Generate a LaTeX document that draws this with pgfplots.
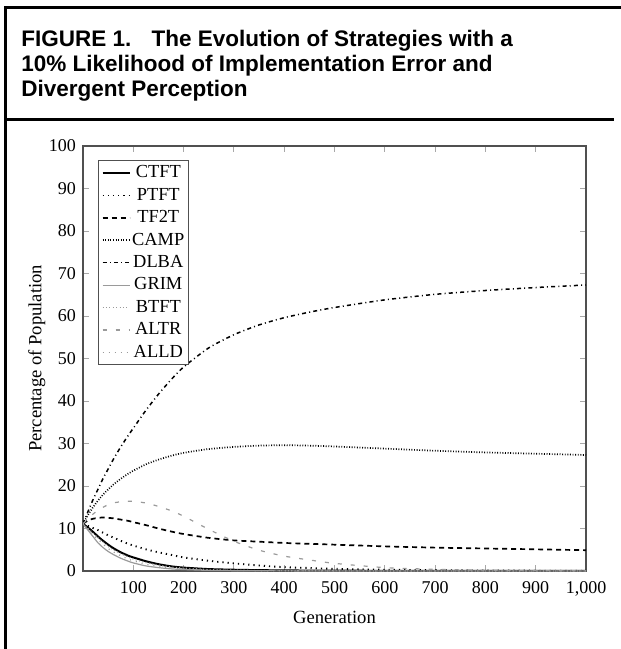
\documentclass[border=0pt]{standalone}
\usepackage{fontspec}
\setmainfont{Liberation Serif}
\newfontfamily\titlefont{Liberation Sans}
\usepackage{pgfplots}
\pgfplotsset{compat=1.18}
\usepackage{pgfplotstable}

\definecolor{axgray}{HTML}{505050}
\definecolor{tkgray}{HTML}{A8A8A8}
\definecolor{crvgray}{HTML}{9A9A9A}

% gen, then one column per strategy (percentage of population)
\pgfplotstableread{
gen  ctft  ptft  tf2t  camp  dlba  grim  btft  altr  alld
0    11.1  11.1  11.1  11.1  11.1  11.1  11.1  11.1  11.1
10   10.2  10.6  11.9  13.2  14.0  9.6   10.0  12.3  9.8
20   9.2   10.1  12.3  15.0  16.8  8.1   8.9   13.4  8.6
30   8.1   9.6   12.5  16.6  19.3  6.6   7.8   14.3  7.4
40   7.1   9.0   12.6  18.0  21.8  5.5   6.8   15.0  6.3
50   6.2   8.4   12.5  19.2  24.0  4.6   5.8   15.6  5.3
60   5.4   7.9   12.4  20.3  26.2  3.9   5.0   16.0  4.5
75   4.4   7.1   12.1  21.7  29.2  3.0   4.1   16.3  3.6
90   3.6   6.4   11.8  22.9  31.9  2.3   3.3   16.4  2.8
100  3.2   6.0   11.5  23.6  33.6  1.9   2.8   16.4  2.4
125  2.3   5.1   10.8  25.1  37.8  1.2   2.0   16.0  1.6
150  1.6   4.4   10.0  26.2  41.6  0.8   1.4   15.2  1.1
175  1.1   3.8   9.3   27.1  45.0  0.5   0.95  14.2  0.75
200  0.8   3.2   8.7   27.8  48.0  0.35  0.7   12.9  0.5
250  0.45  2.4   7.8   28.7  52.5  0.15  0.35  9.8   0.25
300  0.3   1.8   7.2   29.2  55.6  0.08  0.2   7.0   0.12
350  0.2   1.3   6.9   29.5  57.9  0.05  0.13  4.9   0.08
400  0.15  0.9   6.6   29.6  59.6  0.03  0.08  3.5   0.05
450  0.1   0.7   6.4   29.5  60.9  0.02  0.06  2.6   0.03
500  0.08  0.5   6.2   29.3  62.0  0.01  0.04  1.8   0.02
600  0.05  0.3   5.8   28.8  63.8  0     0.02  0.8   0.01
700  0.04  0.2   5.5   28.3  65.1  0     0.01  0.4   0
800  0.03  0.1   5.3   27.9  66.0  0     0     0.2   0
900  0.02  0.07  5.1   27.6  66.7  0     0     0.1   0
1000 0.02  0.05  4.9   27.3  67.3  0     0     0.05  0
}\evo

\begin{document}
\begin{tikzpicture}
\useasboundingbox (0pt,0pt) rectangle (310.5pt,-324.5pt);
% frame and rule
\draw[line width=1.5pt] (2.5pt,-324.5pt) -- (2.5pt,-3.6pt) -- (310.5pt,-3.6pt);
\draw[line width=1.2pt] (2.5pt,-59.7pt) -- (307pt,-59.7pt);
% title
\begin{scope}[every node/.style={anchor=base west, inner sep=0pt,
    font=\titlefont\bfseries\fontsize{11.25}{12.5}\selectfont}]
\node at (10.5pt,-23.35pt) {FIGURE 1.\hspace{0.9em}The Evolution of Strategies with a};
\node at (10.5pt,-35.85pt) {10\% Likelihood of Implementation Error and};
\node at (10.5pt,-48.35pt) {Divergent Perception};
\end{scope}

\begin{axis}[
  at={(41.5pt,-285.5pt)}, anchor=south west,
  scale only axis, width=251.5pt, height=212.5pt,
  xmin=0, xmax=1000, ymin=0, ymax=100,
  xtick={100,200,...,1000}, ytick={0,10,...,100},
  scaled x ticks=false,
  tick align=inside, major tick length=3pt,
  tick style={tkgray, line width=0.5pt},
  axis line style={axgray, line width=0.8pt},
  ticklabel style={font=\fontsize{9}{10}\selectfont},
  xticklabel style={yshift=-1.5pt},
  /pgf/number format/assume math mode=true,
  xlabel={Generation}, ylabel={Percentage of Population},
  label style={font=\fontsize{9.3}{10}\selectfont},
  xlabel style={yshift=-0.8pt},
  ylabel style={at={(axis description cs:-0.092,0.5)}, anchor=center},
  legend cell align=center,
  legend style={at={(0.03,0.967)}, anchor=north west,
    draw=axgray, line width=0.5pt, inner sep=1.5pt, row sep=1.6pt,
    font=\fontsize{9.2}{10}\selectfont,
    nodes={inner sep=0.8pt, text height=6.4pt, text depth=1.6pt}},
  legend image code/.code={\draw[#1] (0pt,0pt) -- (13.5pt,0pt);},
  every axis plot/.append style={smooth, tension=0.4},
]
\addplot[black, line width=1pt] table[x=gen, y=ctft] {\evo};
\addlegendentry{CTFT}
\addplot[black, line width=0.95pt, dash pattern=on 0.6pt off 2pt] table[x=gen, y=ptft] {\evo};
\addlegendentry{PTFT}
\addplot[black, line width=0.85pt, dash pattern=on 2.5pt off 2pt] table[x=gen, y=tf2t] {\evo};
\addlegendentry{TF2T}
\addplot[black, line width=0.85pt, dash pattern=on 0.45pt off 0.85pt] table[x=gen, y=camp] {\evo};
\addlegendentry{CAMP}
\addplot[black, line width=0.75pt, dash pattern=on 2pt off 1.6pt on 0.5pt off 1.6pt] table[x=gen, y=dlba] {\evo};
\addlegendentry{DLBA}
\addplot[crvgray, line width=0.6pt] table[x=gen, y=grim] {\evo};
\addlegendentry{GRIM}
\addplot[crvgray, line width=0.6pt, dash pattern=on 0.5pt off 1.2pt] table[x=gen, y=btft] {\evo};
\addlegendentry{BTFT}
\addplot[crvgray, line width=0.6pt, dash pattern=on 2pt off 4.5pt] table[x=gen, y=altr] {\evo};
\addlegendentry{ALTR}
\addplot[crvgray, line width=0.6pt, dash pattern=on 0.5pt off 2.5pt] table[x=gen, y=alld] {\evo};
\addlegendentry{ALLD}
\end{axis}
\end{tikzpicture}
\end{document}
